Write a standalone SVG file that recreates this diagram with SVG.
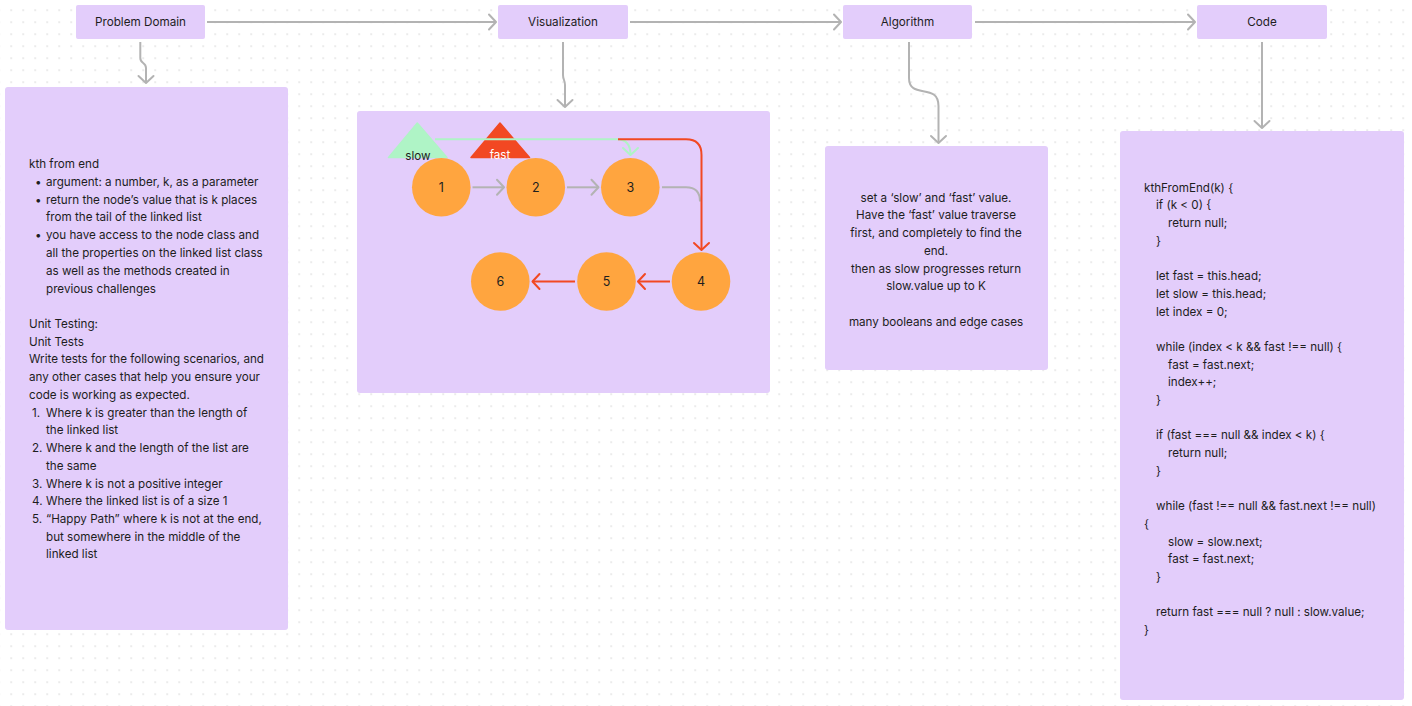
<svg xmlns="http://www.w3.org/2000/svg" width="1412" height="706" viewBox="0 0 1412 706">
<defs>
<pattern id="dots" x="10.5" y="9.5" width="12" height="12" patternUnits="userSpaceOnUse">
<rect x="0" y="0" width="1.3" height="1.3" fill="#cfcfcf"/>
</pattern>
<marker id="ag" viewBox="-10 -10 20 20" markerWidth="20" markerHeight="20" refX="0" refY="0" orient="auto" markerUnits="userSpaceOnUse">
<path d="M-7,-7.5 L0,0 L-7,7.5" fill="none" stroke="#b3b3b3" stroke-width="2" stroke-linecap="round" stroke-linejoin="round"/>
</marker>
<marker id="ar" viewBox="-10 -10 20 20" markerWidth="20" markerHeight="20" refX="0" refY="0" orient="auto" markerUnits="userSpaceOnUse">
<path d="M-7,-7.5 L0,0 L-7,7.5" fill="none" stroke="#f24822" stroke-width="2" stroke-linecap="round" stroke-linejoin="round"/>
</marker>
<marker id="agr" viewBox="-10 -10 20 20" markerWidth="20" markerHeight="20" refX="0" refY="0" orient="auto" markerUnits="userSpaceOnUse">
<path d="M-7,-7.5 L0,0 L-7,7.5" fill="none" stroke="#aff4c6" stroke-width="2" stroke-linecap="round" stroke-linejoin="round"/>
</marker>
</defs>
<style>
.box{fill:#e3cdfb;}
.t{font-family:Inter,"Noto Sans","Liberation Sans",sans-serif;font-size:11.65px;fill:#1e1e1e;}
.title{font-family:Inter,"Noto Sans","Liberation Sans",sans-serif;font-size:11.7px;fill:#1e1e1e;text-anchor:middle;dominant-baseline:central;}
.c{text-anchor:middle;}
.g{fill:none;stroke:#b3b3b3;stroke-width:2;}
.r{fill:none;stroke:#f24822;stroke-width:2;}
.gr{fill:none;stroke:#aff4c6;stroke-width:2;}
.node{fill:#ffa53f;}
.nt{font-family:Inter,"Noto Sans","Liberation Sans",sans-serif;font-size:12.5px;fill:#1e1e1e;text-anchor:middle;dominant-baseline:central;}
</style>
<rect width="1412" height="706" fill="#ffffff"/>
<rect width="1412" height="706" fill="url(#dots)"/>

<g id="problem-domain">
<rect class="box" x="76" y="5" width="129" height="34" rx="2"/>
<text class="title" x="140.5" y="22">Problem Domain</text>
</g>
<g id="visualization">
<rect class="box" x="498" y="5" width="130" height="34" rx="2"/>
<text class="title" x="563" y="22">Visualization</text>
</g>
<g id="algorithm">
<rect class="box" x="843" y="5" width="129" height="34" rx="2"/>
<text class="title" x="907.5" y="22">Algorithm</text>
</g>
<g id="code">
<rect class="box" x="1197" y="5" width="130" height="34" rx="2"/>
<text class="title" x="1262" y="22">Code</text>
</g>

<g id="problem-details">
<rect class="box" x="5" y="87" width="283" height="543" rx="3"/>
<g class="t">
<text x="29" y="167.5">kth from end</text>
<text x="35" y="185.5">•</text><text x="46" y="185.5">argument: a number, k, as a parameter</text>
<text x="35" y="203.5">•</text><text x="46" y="203.5">return the node’s value that is k places</text>
<text x="46" y="221">from the tail of the linked list</text>
<text x="35" y="239">•</text><text x="46" y="239">you have access to the node class and</text>
<text x="46" y="257">all the properties on the linked list class</text>
<text x="46" y="274.5">as well as the methods created in</text>
<text x="46" y="292.5">previous challenges</text>
<text x="29" y="327.5">Unit Testing:</text>
<text x="29" y="345.5">Unit Tests</text>
<text x="29" y="363">Write tests for the following scenarios, and</text>
<text x="29" y="381">any other cases that help you ensure your</text>
<text x="29" y="398.5">code is working as expected.</text>
<text x="32" y="416.5">1.</text><text x="46" y="416.5">Where k is greater than the length of</text>
<text x="46" y="434">the linked list</text>
<text x="32" y="452">2.</text><text x="46" y="452">Where k and the length of the list are</text>
<text x="46" y="469.5">the same</text>
<text x="32" y="487.5">3.</text><text x="46" y="487.5">Where k is not a positive integer</text>
<text x="32" y="505">4.</text><text x="46" y="505">Where the linked list is of a size 1</text>
<text x="32" y="523">5.</text><text x="46" y="523">“Happy Path” where k is not at the end,</text>
<text x="46" y="540.5">but somewhere in the middle of the</text>
<text x="46" y="558">linked list</text>
</g>
</g>

<g id="visualization-panel">
<rect class="box" x="357" y="111" width="413" height="282" rx="3"/>
</g>

<g id="algorithm-details">
<rect class="box" x="825" y="146" width="223" height="224" rx="3"/>
<g class="t c">
<text x="936" y="201.5">set a ‘slow’ and ‘fast’ value.</text>
<text x="936" y="219">Have the ‘fast’ value traverse</text>
<text x="936" y="237">first, and completely to find the</text>
<text x="936" y="254.5">end.</text>
<text x="936" y="272.5">then as slow progresses return</text>
<text x="936" y="290">slow.value up to K</text>
<text x="936" y="325.5">many booleans and edge cases</text>
</g>
</g>

<g id="code-details">
<rect class="box" x="1120" y="131" width="284" height="569" rx="3"/>
<g class="t">
<text x="1144" y="191.5">kthFromEnd(k) {</text>
<text x="1156" y="209">if (k &lt; 0) {</text>
<text x="1168" y="227">return null;</text>
<text x="1156" y="244.5">}</text>
<text x="1156" y="280">let fast = this.head;</text>
<text x="1156" y="297.5">let slow = this.head;</text>
<text x="1156" y="315.5">let index = 0;</text>
<text x="1156" y="350.5">while (index &lt; k &amp;&amp; fast !== null) {</text>
<text x="1168" y="368.5">fast = fast.next;</text>
<text x="1168" y="386">index++;</text>
<text x="1156" y="404">}</text>
<text x="1156" y="439">if (fast === null &amp;&amp; index &lt; k) {</text>
<text x="1168" y="457">return null;</text>
<text x="1156" y="474.5">}</text>
<text x="1156" y="510">while (fast !== null &amp;&amp; fast.next !== null)</text>
<text x="1144" y="527.5">{</text>
<text x="1168" y="545.5">slow = slow.next;</text>
<text x="1168" y="563">fast = fast.next;</text>
<text x="1156" y="581">}</text>
<text x="1156" y="616">return fast === null ? null : slow.value;</text>
<text x="1144" y="633.5">}</text>
</g>
</g>

<g id="pointer-slow">
<path d="M417.3,123 L447,157.5 L388.5,157.5 Z" fill="#aff4c6" stroke="#aff4c6" stroke-width="1.5" stroke-linejoin="round"/>
<text class="t c" x="418" y="159.5">slow</text>
</g>
<g id="pointer-fast">
<path d="M500,123 L529.5,157.5 L471,157.5 Z" fill="#f24822" stroke="#f24822" stroke-width="1.5" stroke-linejoin="round"/>
<text class="t c" x="500" y="159" style="fill:#ffffff">fast</text>
</g>

<g id="node-1"><circle class="node" cx="441.3" cy="187.3" r="29.3"/><text class="nt" x="441.3" y="187.3">1</text></g>
<g id="node-2"><circle class="node" cx="535.8" cy="187.3" r="29.3"/><text class="nt" x="535.8" y="187.3">2</text></g>
<g id="node-3"><circle class="node" cx="630.3" cy="187.3" r="29.3"/><text class="nt" x="630.3" y="187.3">3</text></g>
<g id="node-4"><circle class="node" cx="701" cy="281.5" r="29.3"/><text class="nt" x="701" y="281.5">4</text></g>
<g id="node-5"><circle class="node" cx="606.5" cy="281.5" r="29.3"/><text class="nt" x="606.5" y="281.5">5</text></g>
<g id="node-6"><circle class="node" cx="500.3" cy="281.5" r="29.3"/><text class="nt" x="500.3" y="281.5">6</text></g>

<g id="connectors">
<path class="g" d="M207,22 H496" marker-end="url(#ag)"/>
<path class="g" d="M630,22 H841" marker-end="url(#ag)"/>
<path class="g" d="M975,22 H1195" marker-end="url(#ag)"/>
<path class="g" d="M140.3,42 V58 C140.3,64 146,62 146,68 V83" marker-end="url(#ag)"/>
<path class="g" d="M563,42 V75 C563,80 565,80 565,85 V107" marker-end="url(#ag)"/>
<path class="g" d="M909,42 V78 C909,100 938.5,82 938.5,106 V143" marker-end="url(#ag)"/>
<path class="g" d="M1262,42 V128" marker-end="url(#ag)"/>
<path class="g" d="M472.5,187.3 H504" marker-end="url(#ag)"/>
<path class="g" d="M567,187.3 H598.5" marker-end="url(#ag)"/>
<path class="g" d="M662,187.3 H686 Q700,187.3 700,201.5"/>
<path class="gr" d="M435,139.3 H617 Q630.5,139.3 630.5,155" marker-end="url(#agr)"/>
<path class="r" d="M618,139.3 H686 Q701.5,139.3 701.5,155 V250" marker-end="url(#ar)"/>
<path class="r" d="M670,281.5 H638" marker-end="url(#ar)"/>
<path class="r" d="M575,281.5 H532.5" marker-end="url(#ar)"/>
</g>
</svg>
